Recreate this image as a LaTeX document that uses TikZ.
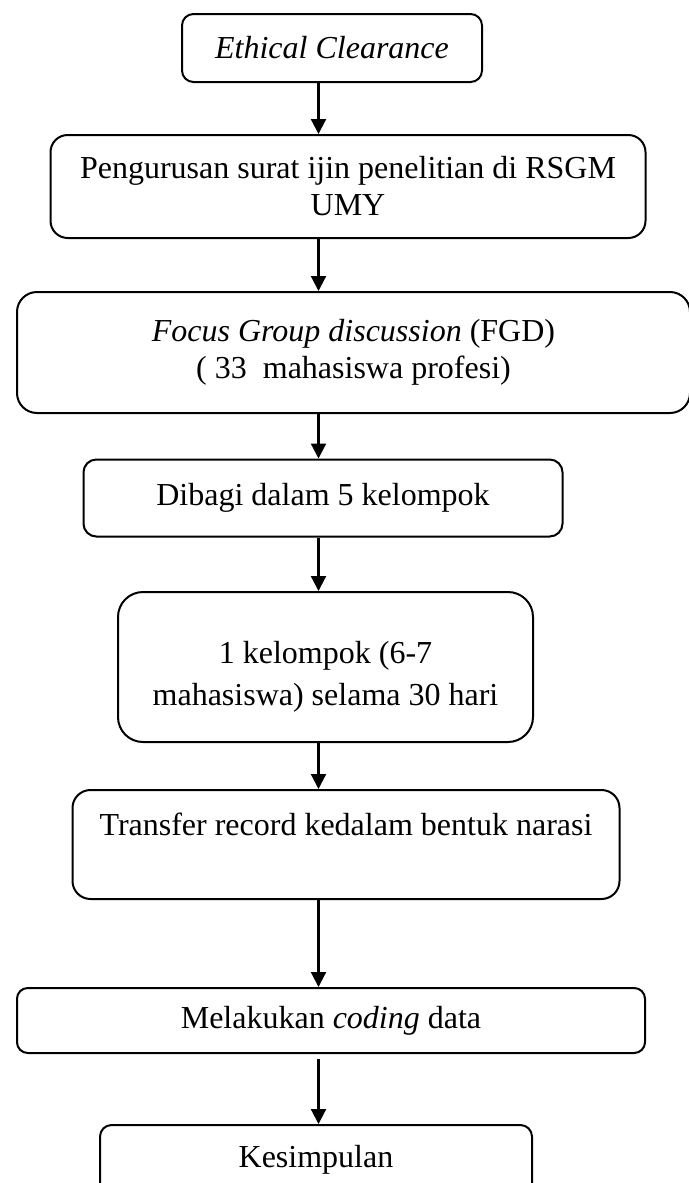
\documentclass[tikz,border=0pt]{standalone}
\usepackage{fontspec}
\setmainfont{Liberation Serif}
\usetikzlibrary{arrows.meta}
\tikzset{
  procbox/.style={draw, line width=1pt, align=center, inner sep=3pt},
  arrow/.style={-{Triangle[length=7.5pt, width=7.5pt]}, line width=1.1pt}
}
\begin{document}
\begin{tikzpicture}[x=0.5pt, y=-0.5pt, font=\fontsize{16}{18.5}\selectfont]
  \useasboundingbox (0,0) rectangle (689,1183);
  \coordinate (spine) at (318.5,0);

  \node[procbox, rounded corners=5.7pt, minimum width=150pt, minimum height=34pt] (ethic) at (332,48) {\textit{Ethical Clearance}};
  \node[procbox, rounded corners=8.6pt, minimum width=297.5pt, minimum height=51.5pt, font=\fontsize{16}{18.5}\selectfont] (ijin) at (348,186.5) {Pengurusan surat ijin penelitian di RSGM\\UMY};
  \node[procbox, rounded corners=10pt, minimum width=336.5pt, minimum height=60.5pt] (fgd) at (353.5,352.5) {\textit{Focus Group discussion} (FGD)\\(\ 33\ \ mahasiswa profesi)};
  \node[procbox, rounded corners=6.4pt, minimum width=239.5pt, minimum height=38.5pt] (bagi) at (323,498) {Dibagi dalam 5 kelompok};
  \node[procbox, rounded corners=12.5pt, minimum width=207.5pt, minimum height=75pt, font=\fontsize{16}{21}\selectfont] (kelompok) at (325.5,667) {\mbox{}\\1 kelompok (6-7\\mahasiswa) selama 30 hari};
  \node[procbox, rounded corners=9pt, minimum width=273.5pt, minimum height=54.5pt, font=\fontsize{16}{20}\selectfont] (narasi) at (346,844.5) {Transfer record kedalam bentuk narasi\\\mbox{}};
  \node[procbox, rounded corners=5.4pt, minimum width=314pt, minimum height=32.5pt] (coding) at (331,1020.5) {Melakukan \textit{coding} data};
  \node[procbox, rounded corners=5.8pt, minimum width=216pt, minimum height=35pt] (simpul) at (316,1160) {Kesimpulan};

  \foreach \a/\b in {ethic/ijin, ijin/fgd, fgd/bagi, bagi/kelompok, kelompok/narasi, narasi/coding} {\draw[arrow] (\a.south -| spine) -- (\b.north -| spine);}
  \draw[arrow, shorten <=2.5pt] (coding.south -| spine) -- (simpul.north -| spine);
\end{tikzpicture}
\end{document}
